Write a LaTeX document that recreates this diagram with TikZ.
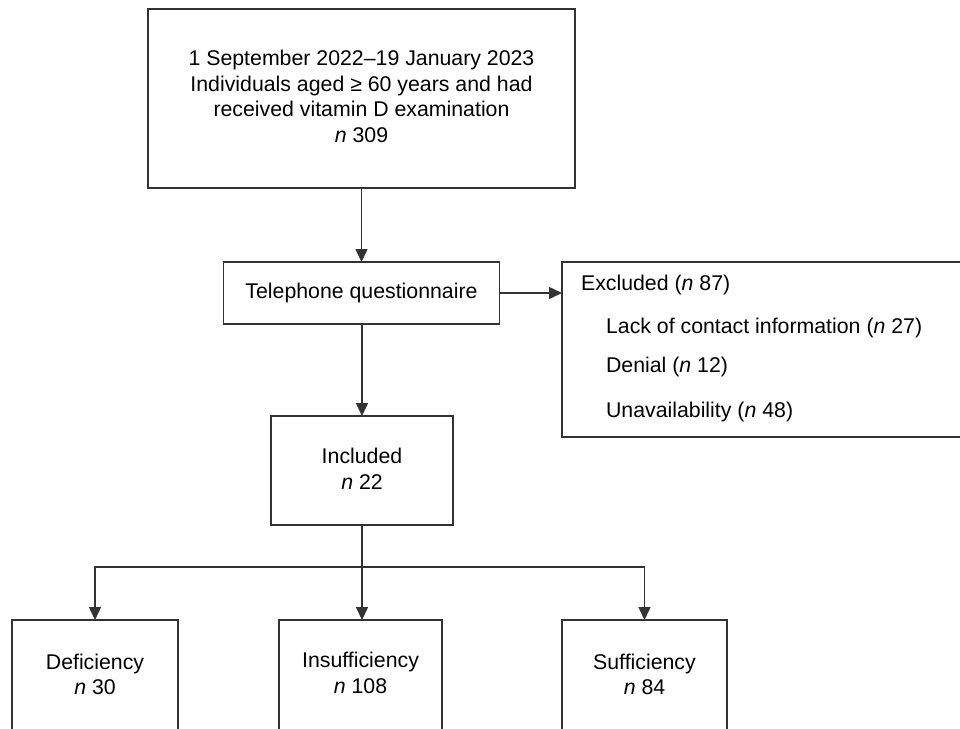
\documentclass[tikz,border=0pt]{standalone}
\usepackage{fontspec}
\setmainfont{Liberation Sans}
\usetikzlibrary{arrows.meta,positioning}

\tikzset{
	box/.style={draw=black!80, line width=0.75pt, inner sep=0pt, outer sep=0pt, align=center},
	arrow/.style={draw=black!80, line width=0.75pt, -{Triangle[length=6.5pt, width=6pt]}},
	line/.style={draw=black!80, line width=0.75pt}
}

\begin{document}
\begin{tikzpicture}[x=0.5pt, y=-0.5pt, font=\fontsize{10.65}{12.85}\selectfont]
			\clip (0,0) rectangle (960,729);
			\fill[white] (0,0) rectangle (960,729);

			% Boxes
			\node[box, minimum width=213.5pt, minimum height=89.5pt] (start) at (361.5,98.5) {};
			\node[align=center] (startT) at (361.5,96.5)
				{1 September 2022–19 January 2023\\Individuals aged ≥ 60 years and had\\received vitamin D examination\\\textit{n} 309};
			\node[box, minimum width=138pt, minimum height=31pt] (phone) at (361.5,293) {Telephone questionnaire};
			\node[box, minimum width=206.5pt, minimum height=87.5pt] (excl) at (768.5,349.5) {};
			\node[box, minimum width=91pt, minimum height=54.5pt] (incl) at (362,470.5) {};
			\node[align=center] (inclT) at (362,468.5) {Included\\\textit{n} 22};

			% Exclusion reasons
			\node[anchor=west] (exclA) at (574,285) {Excluded (\textit{n} 87)};
			\node[anchor=west] (exclB) at (599,328) {Lack of contact information (\textit{n} 27)};
			\node[anchor=west] (exclC) at (599,367) {Denial (\textit{n} 12)};
			\node[anchor=west] (exclD) at (599,412) {Unavailability (\textit{n} 48)};

			% Vitamin D groups
			\node[box, minimum width=83pt, minimum height=70pt] (defic) at (95,690) {};
			\node[box, minimum width=81.5pt, minimum height=70pt] (insuf) at (360.5,690) {};
			\node[box, minimum width=82.5pt, minimum height=70pt] (suffic) at (644.5,690) {};
			\node[align=center] (deficT) at (95,674.5) {Deficiency\\\textit{n} 30};
			\node[align=center] (insufT) at (360.5,673) {Insufficiency\\\textit{n} 108};
			\node[align=center] (sufficT) at (644.5,674.5) {Sufficiency\\\textit{n} 84};

			% Connectors
			\coordinate (split) at (362,567);
			\draw[arrow] (start.south) -- (phone.north);
			\draw[arrow] (phone.east) -- (phone.east -| excl.west);
			\draw[arrow] (phone.south -| incl.north) -- (incl.north);
			\draw[line] (incl.south) -- (split);
			\draw[arrow] (split) -- (split |- insuf.north);
			\draw[arrow] (split) -| (defic.north);
			\draw[arrow] (split) -| (suffic.north);
		\end{tikzpicture}
\end{document}
